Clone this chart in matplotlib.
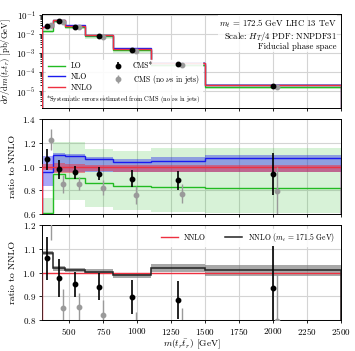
import numpy as np
import matplotlib
matplotlib.use('Agg')
import matplotlib.pyplot as plt

plt.rcParams.update({
    'font.family': 'serif',
    'font.serif': ['cmr10', 'DejaVu Serif'],
    'mathtext.fontset': 'cm',
    'axes.unicode_minus': False,
    'axes.formatter.use_mathtext': True,
    'axes.linewidth': 0.7,
    'xtick.major.width': 0.6,
    'ytick.major.width': 0.6,
    'xtick.major.size': 2.5,
    'ytick.major.size': 2.5,
    'ytick.minor.size': 1.5,
    'xtick.major.pad': 2.0,
    'ytick.major.pad': 2.0,
    'xtick.labelsize': 6.5,
    'ytick.labelsize': 6.5,
})

# ── data ──────────────────────────────────────────────────────────────
edges = [300, 380, 470, 620, 820, 1100, 1500, 2500]
centers = [340, 425, 545, 720, 960, 1300, 2000]

# NNLO cross section per bin [pb/GeV]
xs_nnlo = [0.024, 0.052, 0.026, 0.0088, 0.0017, 3.0e-4, 2.1e-5]
nnlo_up = [1.02, 1.028, 1.025, 1.015, 1.013, 1.013, 1.012]
nnlo_dn = [0.975, 0.945, 0.945, 0.962, 0.958, 0.958, 0.957]

# ratios to NNLO
lo_ratio = [0.61, 0.937, 0.90, 0.862, 0.836, 0.825, 0.818]
lo_up = [0.735, 1.21, 1.21, 1.15, 1.13, 1.155, 1.155]
lo_dn = [0.50, 0.72, 0.72, 0.662, 0.632, 0.62, 0.606]

nlo_ratio = [0.955, 1.10, 1.09, 1.062, 1.035, 1.045, 1.068]
nlo_up = [1.09, 1.112, 1.102, 1.078, 1.062, 1.078, 1.10]
nlo_dn = [0.84, 0.958, 0.952, 0.955, 0.952, 0.952, 0.952]

# NNLO with m_t = 171.5 GeV, ratio to NNLO (m_t = 172.5 GeV)
mt171_ratio = [1.081, 1.018, 1.012, 1.004, 0.988, 1.020, 1.009]
mt171_up = [1.090, 1.028, 1.020, 1.015, 1.000, 1.037, 1.032]
mt171_dn = [1.073, 1.008, 1.004, 0.993, 0.976, 1.003, 0.986]

# CMS data, ratio to NNLO
cms_ratio = [1.06, 0.976, 0.950, 0.941, 0.896, 0.885, 0.935]
cms_err = [0.09, 0.08, 0.054, 0.057, 0.071, 0.079, 0.178]
cms_nonu_ratio = [1.225, 0.853, 0.857, 0.821, 0.758, 0.773, 0.796]
cms_nonu_err = [0.09, 0.078, 0.058, 0.062, 0.075, 0.08, 0.20]
nonu_shift = 30

C_LO = '#22bb22'
C_NLO = '#1a1aee'
C_NNLO = '#ee3040'
C_GRID = '#d4d4d4'

x_nonu = np.array(centers) + nonu_shift
xs = np.array(xs_nnlo)

fig = plt.figure(figsize=(3.55, 3.51), dpi=100)
L, W = 0.118, 0.843
ax_top = fig.add_axes([L, 0.692, W, 0.268])
ax_mid = fig.add_axes([L, 0.390, W, 0.271])
ax_bot = fig.add_axes([L, 0.088, W, 0.271])

for ax in (ax_top, ax_mid, ax_bot):
    ax.set_xlim(300, 2500)
    ax.set_xticks([500, 750, 1000, 1250, 1500, 1750, 2000, 2250, 2500])
    ax.grid(True, color=C_GRID, lw=0.8, zorder=0)
    ax.set_axisbelow(True)
ax_top.tick_params(labelbottom=False)
ax_mid.tick_params(labelbottom=False)


def bands(ax, scale, zb=1):
    ax.stairs(scale * np.array(lo_up), edges, baseline=scale * np.array(lo_dn),
              fill=True, color=C_LO, alpha=0.18, lw=0, zorder=zb)
    ax.stairs(scale * np.array(nlo_up), edges, baseline=scale * np.array(nlo_dn),
              fill=True, color=C_NLO, alpha=0.38, lw=0, zorder=zb + 1)
    ax.stairs(scale * np.array(nnlo_up), edges, baseline=scale * np.array(nnlo_dn),
              fill=True, color=C_NNLO, alpha=0.5, lw=0, zorder=zb + 2)
    ax.stairs(scale * np.array(lo_ratio), edges, color=C_LO, lw=1.0,
              zorder=zb + 3, label='LO')
    ax.stairs(scale * np.array(nlo_ratio), edges, color=C_NLO, lw=1.0,
              zorder=zb + 3, label='NLO')
    ax.stairs(scale * np.ones(len(centers)), edges, color=C_NNLO, lw=1.0,
              zorder=zb + 3, label='NNLO')


def data(ax, scale, with_labels=False):
    ax.errorbar(x_nonu, scale * np.array(cms_nonu_ratio),
                yerr=scale * np.array(cms_nonu_err), fmt='o', color='#9a9a9a',
                ms=3.2, elinewidth=1.0, capsize=0, zorder=8,
                label='CMS (no $\\nu$s in jets)' if with_labels else None)
    ax.errorbar(centers, scale * np.array(cms_ratio),
                yerr=scale * np.array(cms_err), fmt='o', color='black',
                ms=3.2, elinewidth=1.2, capsize=0, zorder=9,
                label='CMS*' if with_labels else None)


# ── top panel ─────────────────────────────────────────────────────────
ax_top.set_yscale('log')
ax_top.set_ylim(1.3e-6, 0.113)
ax_top.set_yticks([1e-5, 1e-4, 1e-3, 1e-2, 1e-1])
bands(ax_top, xs)
data(ax_top, xs, with_labels=True)
ax_top.set_ylabel(r'$\mathrm{d}\sigma/\mathrm{d}m(t_r\bar{t}_r)$ [pb/GeV]',
                  fontsize=6.2)
ax_top.yaxis.set_label_coords(-0.098, 0.5)
h, lab = ax_top.get_legend_handles_labels()
order = [0, 1, 2, 4, 3]
ax_top.legend([h[i] for i in order], [lab[i] for i in order], ncol=2,
              loc='lower left', bbox_to_anchor=(0.0, 0.11), fontsize=5.5,
              frameon=True, edgecolor='white', framealpha=0.9,
              handlelength=2.2, columnspacing=2.2, borderpad=0.3,
              labelspacing=0.3)
ax_top.text(0.015, 0.03, '*Systematic errors estimated from CMS (no $\\nu$s in jets)',
            transform=ax_top.transAxes, fontsize=4.6, ha='left', va='bottom')
ax_top.text(0.985, 0.965,
            '$m_t$ = 172.5 GeV LHC 13 TeV\nScale: $H_T/4$ PDF: NNPDF31\n'
            'Fiducial phase space',
            transform=ax_top.transAxes, fontsize=6.3, ha='right', va='top',
            linespacing=1.0,
            bbox=dict(facecolor='white', edgecolor='none', alpha=0.8, pad=0.5))

# ── middle panel ──────────────────────────────────────────────────────
ax_mid.set_ylim(0.6, 1.4)
ax_mid.set_yticks([0.6, 0.8, 1.0, 1.2, 1.4])
bands(ax_mid, 1.0)
data(ax_mid, 1.0)
ax_mid.set_ylabel('ratio to NNLO', fontsize=7)
ax_mid.yaxis.set_label_coords(-0.083, 0.5)

# ── bottom panel ──────────────────────────────────────────────────────
ax_bot.set_ylim(0.8, 1.2)
ax_bot.set_yticks([0.8, 0.9, 1.0, 1.1, 1.2])
ax_bot.stairs(mt171_up, edges, baseline=mt171_dn, fill=True, color='#7a7a7a',
              alpha=0.65, lw=0, zorder=2)
ax_bot.stairs(np.ones(len(centers)), edges, color=C_NNLO, lw=1.0, zorder=3,
              label='NNLO')
ax_bot.stairs(mt171_ratio, edges, color='#222222', lw=1.1, zorder=4,
              label='NNLO ($m_t$ = 171.5 GeV)')
data(ax_bot, 1.0)
ax_bot.set_ylabel('ratio to NNLO', fontsize=7)
ax_bot.yaxis.set_label_coords(-0.083, 0.5)
ax_bot.set_xlabel(r'$m(t_r\bar{t}_r)$ [GeV]', fontsize=6.8, labelpad=0)
ax_bot.legend(ncol=2, loc='upper right', fontsize=5.5, frameon=True,
              edgecolor='white', framealpha=0.9, handlelength=2.2,
              columnspacing=2.5, borderpad=0.3)

fig.savefig('out.png', dpi=100)
